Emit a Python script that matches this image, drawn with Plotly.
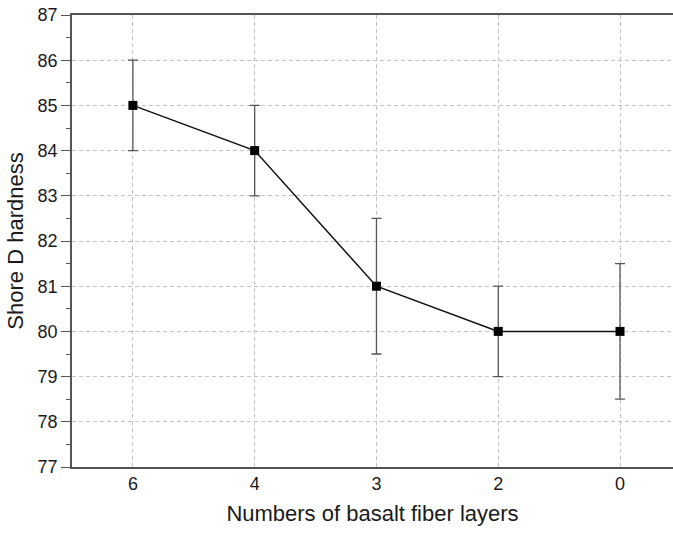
import plotly.graph_objects as go

# Shore D hardness vs. number of basalt fiber layers
layers = ["6", "4", "3", "2", "0"]
hardness = [85, 84, 81, 80, 80]
err_plus = [1, 1, 1.5, 1, 1.5]
err_minus = [1, 1, 1.5, 1, 1.5]
y_ticks = [77, 78, 79, 80, 81, 82, 83, 84, 85, 86, 87]

font_family = "Liberation Sans, Arial, sans-serif"
text_color = "#1a1a1a"
axis_color = "#555555"
grid_color = "#c4c4c4"

fig = go.Figure()
fig.add_trace(go.Scatter(
    x=layers,
    y=hardness,
    mode="lines+markers",
    line=dict(color="#111111", width=1.5),
    marker=dict(symbol="square", size=9, color="black"),
    error_y=dict(
        type="data",
        symmetric=False,
        array=err_plus,
        arrayminus=err_minus,
        color="#555555",
        thickness=1.3,
        width=5,
    ),
    showlegend=False,
))

fig.update_layout(
    width=673,
    height=533,
    margin=dict(l=72, r=0, t=15, b=66),
    paper_bgcolor="white",
    plot_bgcolor="white",
    font=dict(family=font_family, color=text_color),
    xaxis=dict(
        type="category",
        range=[-0.5, 4.435],
        showline=True,
        linecolor=axis_color,
        linewidth=1.6,
        mirror=True,
        ticks="",
        showgrid=True,
        gridcolor=grid_color,
        griddash="4px,3px",
        gridwidth=1,
        tickfont=dict(size=18, family=font_family, color=text_color),
        title=dict(text="Numbers of basalt fiber layers",
                   font=dict(size=22, family=font_family, color=text_color),
                   standoff=12),
        zeroline=False,
    ),
    yaxis=dict(
        range=[77, 87],
        tickvals=y_ticks,
        showline=True,
        linecolor=axis_color,
        linewidth=1.6,
        ticks="outside",
        ticklen=9,
        tickcolor=axis_color,
        tickwidth=1.3,
        minor=dict(dtick=0.5, ticks="outside", ticklen=4, tickcolor=axis_color,
                   tickwidth=1.3, showgrid=False),
        showgrid=True,
        gridcolor=grid_color,
        griddash="4px,3px",
        gridwidth=1,
        tickfont=dict(size=18, family=font_family, color=text_color),
        title=dict(text="Shore D hardness",
                   font=dict(size=22, family=font_family, color=text_color),
                   standoff=8),
        zeroline=False,
    ),
)

fig.write_html("out.html")
